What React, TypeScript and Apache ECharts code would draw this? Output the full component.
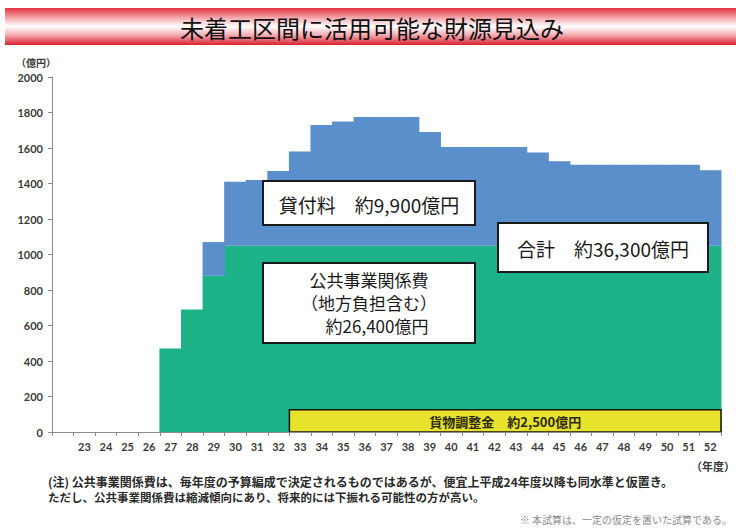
import React, { useEffect, useRef } from "react";
import * as echarts from "echarts";

// Fiscal years (Heisei); first band is an unlabeled leading slot
const years = ["", "23", "24", "25", "26", "27", "28", "29", "30", "31", "32", "33", "34", "35", "36", "37", "38", "39", "40", "41", "42", "43", "44", "45", "46", "47", "48", "49", "50", "51", "52"];
// 公共事業関係費 (億円); null = no amount in that year
const publicWorks = [null, null, null, null, null, 470, 690, 880, 1050, 1050, 1050, 1050, 1050, 1050, 1050, 1050, 1050, 1050, 1050, 1050, 1050, 1050, 1050, 1050, 1050, 1050, 1050, 1050, 1050, 1050, 1050];
// 貸付料 (億円) stacked on top
const leaseFees = [null, null, null, null, null, null, null, 190, 360, 370, 420, 530, 680, 700, 725, 725, 725, 640, 555, 555, 555, 555, 525, 475, 455, 455, 455, 455, 455, 455, 425];
// 貨物調整金 band: from year, to year, yearly height (億円)
const freightFrom = "33";
const freightTo = "52";
const freightValue = 125;
const freightLabel = "貨物調整金　約2,500億円";

const yTicks = { min: 0, max: 2000, interval: 200 };

const CJK = '"Noto Sans CJK JP", "Noto Sans", sans-serif';

export default function App() {
  const ref = useRef<HTMLDivElement>(null);
  useEffect(() => {
    const chart = echarts.init(ref.current!, undefined, { renderer: "svg" });
    const freightData = [[years.indexOf(freightFrom), years.indexOf(freightTo), freightValue]];
    // stacked step blocks: [category index, base, top]
    const greenData: number[][] = [];
    const blueData: number[][] = [];
    years.forEach((_, i) => {
      const g = publicWorks[i];
      const b = leaseFees[i];
      if (g != null) greenData.push([i, 0, g]);
      if (b != null) blueData.push([i, g ?? 0, (g ?? 0) + b]);
    });
    const blockRender = (color: string) => (params: any, api: any) => {
      const p0 = api.coord([api.value(0), api.value(1)]);
      const p1 = api.coord([api.value(0), api.value(2)]);
      const bw = api.size([1, 0])[0];
      return {
        type: "rect",
        shape: { x: p0[0] - bw / 2 - 0.5, y: p1[1], width: bw + 1, height: p0[1] - p1[1] },
        style: { fill: color },
      };
    };
    const boxStyle = { fill: "#ffffff", stroke: "#1a1a1a", lineWidth: 2 };
    const textFont = (size: number, weight = "normal") => `${weight} ${size}px ${CJK}`;
    chart.setOption({
      animation: false,
      backgroundColor: "#ffffff",
      grid: { left: 52, right: 15, top: 77, bottom: 96, containLabel: false },
      xAxis: {
        type: "category",
        data: years,
        boundaryGap: true,
        axisLine: { show: true, lineStyle: { color: "#8a8a8a", width: 1 } },
        axisTick: { show: true, alignWithLabel: false, interval: 0, length: 4, lineStyle: { color: "#8a8a8a" } },
        axisLabel: { interval: 0, margin: 9, fontSize: 11, fontWeight: "bold", color: "#3a3a3a", fontFamily: "Lato, 'Noto Sans', sans-serif" },
        splitLine: { show: false },
        z: 6,
      },
      yAxis: {
        type: "value",
        min: yTicks.min,
        max: yTicks.max,
        interval: yTicks.interval,
        name: "（億円）",
        nameLocation: "end",
        nameGap: 10,
        nameTextStyle: { align: "right", fontSize: 10, fontWeight: "bold", color: "#3a3a3a", fontFamily: CJK, padding: [0, -4, 0, 0] },
        axisLine: { show: true, lineStyle: { color: "#8a8a8a", width: 1 } },
        axisTick: { show: true, length: 4, lineStyle: { color: "#8a8a8a" } },
        axisLabel: {
          margin: 9,
          fontSize: 11,
          fontWeight: "bold",
          color: "#3a3a3a",
          fontFamily: "Lato, 'Noto Sans', sans-serif",
          formatter: (v: number) => String(v),
        },
        splitLine: { show: false },
      },
      series: [
        {
          name: "公共事業関係費",
          type: "custom",
          data: greenData,
          encode: { x: 0, y: [1, 2] },
          renderItem: blockRender("#1db287"),
          z: 2,
        },
        {
          name: "貸付料",
          type: "custom",
          data: blueData,
          encode: { x: 0, y: [1, 2] },
          renderItem: blockRender("#5b8fcb"),
          z: 2,
        },
        {
          name: "貨物調整金",
          type: "custom",
          data: freightData,
          encode: { x: [0, 1], y: 2 },
          z: 5,
          renderItem: (params: any, api: any) => {
            const s = api.coord([api.value(0), api.value(2)]);
            const e = api.coord([api.value(1), 0]);
            const bw = api.size([1, 0])[0];
            const x0 = s[0] - bw / 2;
            const x1 = e[0] + bw / 2;
            return {
              type: "group",
              children: [
                {
                  type: "rect",
                  shape: { x: x0, y: s[1], width: x1 - x0, height: e[1] - s[1] },
                  style: { fill: "#e7e22b", stroke: "#141414", lineWidth: 1.5 },
                },
                {
                  type: "text",
                  style: {
                    text: freightLabel,
                    x: (x0 + x1) / 2,
                    y: (s[1] + e[1]) / 2 + 1,
                    align: "center",
                    verticalAlign: "middle",
                    font: textFont(13, "bold"),
                    fill: "#2a2a10",
                  },
                },
              ],
            };
          },
        },
      ],
      graphic: [
        {
          type: "rect",
          shape: { x: 5, y: 8, width: 740, height: 37 },
          style: {
            fill: new echarts.graphic.LinearGradient(0, 0, 0, 1, [
              { offset: 0, color: "#e4323e" },
              { offset: 0.3, color: "#f6b5ba" },
              { offset: 0.5, color: "#ffffff" },
              { offset: 0.72, color: "#f5b0b5" },
              { offset: 1, color: "#d9202e" },
            ]),
          },
          z: 1,
        },
        {
          type: "text",
          x: 372,
          y: 27,
          style: { text: "未着工区間に活用可能な財源見込み", font: textFont(24), fill: "#111111", align: "center", verticalAlign: "middle" },
          z: 2,
        },
        {
          type: "rect",
          shape: { x: 263, y: 181, width: 212, height: 44 },
          style: boxStyle,
          z: 10,
        },
        {
          type: "text",
          x: 369,
          y: 204,
          style: { text: "貸付料　約9,900億円", font: textFont(19), fill: "#1a1a1a", align: "center", verticalAlign: "middle" },
          z: 11,
        },
        {
          type: "rect",
          shape: { x: 263, y: 263, width: 212, height: 80 },
          style: boxStyle,
          z: 10,
        },
        {
          type: "text",
          x: 369,
          y: 279,
          style: { text: "公共事業関係費", font: textFont(17), fill: "#1a1a1a", align: "center", verticalAlign: "middle" },
          z: 11,
        },
        {
          type: "text",
          x: 369,
          y: 302,
          style: { text: "（地方負担含む）", font: textFont(17), fill: "#1a1a1a", align: "center", verticalAlign: "middle" },
          z: 11,
        },
        {
          type: "text",
          x: 377,
          y: 325,
          style: { text: "約26,400億円", font: textFont(17), fill: "#1a1a1a", align: "center", verticalAlign: "middle" },
          z: 11,
        },
        {
          type: "rect",
          shape: { x: 498, y: 223, width: 210, height: 49 },
          style: boxStyle,
          z: 10,
        },
        {
          type: "text",
          x: 603,
          y: 248,
          style: { text: "合計　約36,300億円", font: textFont(19), fill: "#1a1a1a", align: "center", verticalAlign: "middle" },
          z: 11,
        },
        {
          type: "text",
          x: 735,
          y: 466,
          style: { text: "（年度）", font: textFont(11, "bold"), fill: "#3a3a3a", align: "right", verticalAlign: "middle" },
        },
        {
          type: "text",
          x: 48,
          y: 481,
          style: { text: "(注) 公共事業関係費は、毎年度の予算編成で決定されるものではあるが、便宜上平成24年度以降も同水準と仮置き。", font: textFont(12, "bold"), fill: "#2a2a2a", align: "left", verticalAlign: "middle" },
        },
        {
          type: "text",
          x: 48,
          y: 497,
          style: { text: "ただし、公共事業関係費は縮減傾向にあり、将来的には下振れる可能性の方が高い。", font: textFont(11.5, "bold"), fill: "#2a2a2a", align: "left", verticalAlign: "middle" },
        },
        {
          type: "text",
          x: 732,
          y: 519,
          style: { text: "※ 本試算は、一定の仮定を置いた試算である。", font: textFont(10), fill: "#8a8a8a", align: "right", verticalAlign: "middle" },
        },
      ],
    });
    return () => chart.dispose();
  }, []);
  return <div ref={ref} style={{ position: "fixed", left: 0, top: 0, width: 736, height: 528 }} />;
}
